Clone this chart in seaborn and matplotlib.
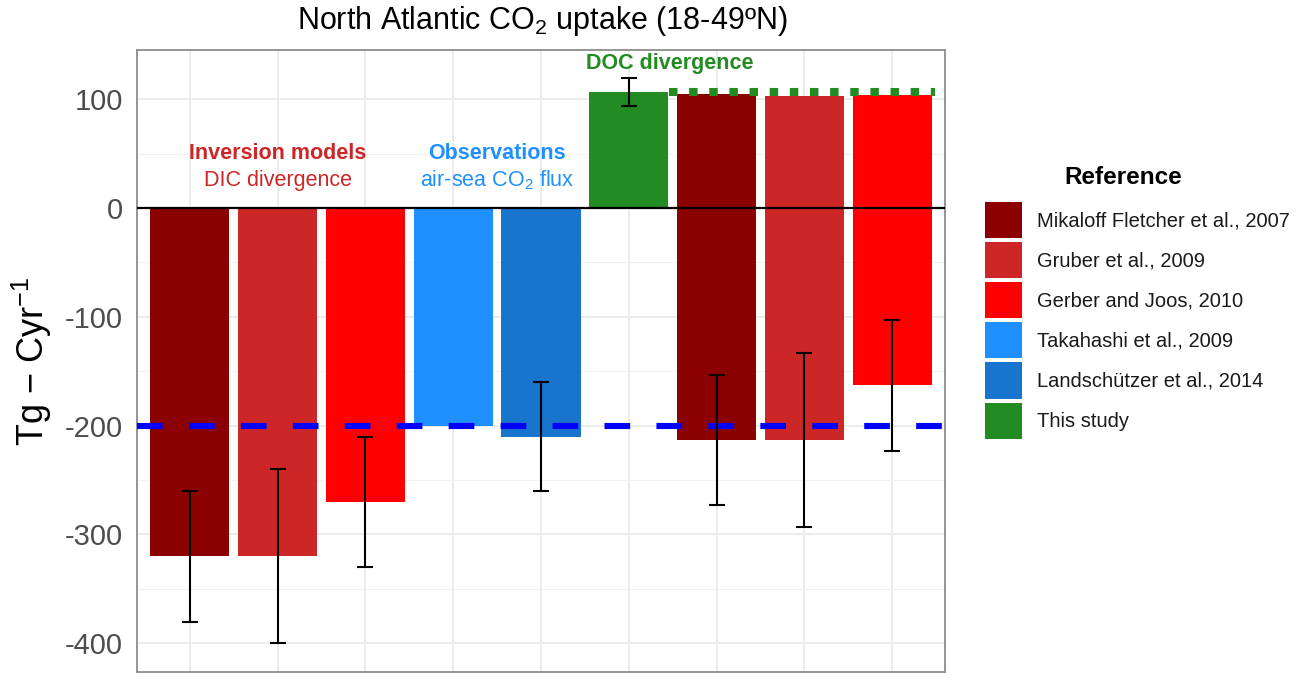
import numpy as np
import pandas as pd
import matplotlib
matplotlib.use("Agg")
import matplotlib.pyplot as plt
from matplotlib.patches import Patch
from matplotlib import font_manager
import seaborn as sns

# ---------------- data ----------------
categories = ['MF07 inv', 'G09 inv', 'GJ10 inv', 'T09 obs', 'L14 obs',
              'This study', 'MF07 DOC', 'G09 DOC', 'GJ10 DOC']
reference = ['Mikaloff Fletcher et al., 2007', 'Gruber et al., 2009',
             'Gerber and Joos, 2010', 'Takahashi et al., 2009',
             'Landschützer et al., 2014', 'This study',
             'Mikaloff Fletcher et al., 2007', 'Gruber et al., 2009',
             'Gerber and Joos, 2010']
lower_values = [-320, -320, -270, -200, -210, 0, -213, -213, -163]
upper_values = [0, 0, 0, 0, 0, 107, 105, 103, 104]
err_center = [-320, -320, -270, np.nan, -210, 107, -213, -213, -163]
err_half = [60, 80, 60, np.nan, 50, 13, 60, 80, 60]
legend_refs = ['Mikaloff Fletcher et al., 2007', 'Gruber et al., 2009',
               'Gerber and Joos, 2010', 'Takahashi et al., 2009',
               'Landschützer et al., 2014', 'This study']
legend_colors = ['#8B0000', '#CD2626', '#FF0000', '#1E90FF', '#1874CD', '#228B22']
ytick_values = [-400, -300, -200, -100, 0, 100]
ytick_labels = ['-400', '-300', '-200', '-100', '0', '100']
yminor_values = [-350, -250, -150, -50, 50]
reference_line = -200
doc_line = 107
title = 'North Atlantic CO$_2$ uptake (18-49ºN)'
ylabel = 'Tg − Cyr$^{-1}$'
legend_title = 'Reference'

palette = dict(zip(legend_refs, legend_colors))
df = pd.DataFrame({'category': categories, 'reference': reference,
                   'lower': lower_values, 'upper': upper_values})

# ---------------- style ----------------
sns.set_theme(style='white')
plt.rcParams['font.family'] = ['Liberation Sans', 'DejaVu Sans']
plt.rcParams['mathtext.default'] = 'regular'
plt.rcParams['axes.unicode_minus'] = False

names = {f.name for f in font_manager.fontManager.ttflist}
if 'Liberation Sans Narrow' in names:
    annot_family = ['Liberation Sans Narrow', 'Liberation Sans']
    annot_size = 17.5
else:
    annot_family = ['Liberation Sans', 'DejaVu Sans']
    annot_size = 15.5

fig = plt.figure(figsize=(12.98, 6.80), dpi=100)
ax = fig.add_axes([137 / 1298, 1 - 672 / 680, 808 / 1298, 622 / 680])

for col in ['lower', 'upper']:
    sns.barplot(data=df, x='category', y=col, hue='reference', palette=palette,
                order=categories, dodge=False, width=0.9, saturation=1,
                errorbar=None, legend=False, ax=ax, zorder=2, linewidth=0)

ax.axhline(0, color='black', lw=1.6, zorder=3)
ax.axhline(reference_line, color='#0000FF', lw=4.4, dashes=(4.2, 4.3),
           dash_capstyle='butt', zorder=3)
ax.plot([5.455, 8.49], [doc_line, doc_line], color='#228B22', lw=5.8,
        dashes=(1.05, 1.45), dash_capstyle='butt', zorder=3)
ax.errorbar(x=np.arange(len(categories)), y=err_center, yerr=err_half,
            fmt='none', ecolor='black', elinewidth=1.5, capsize=6,
            capthick=1.5, zorder=5)

ax.set_xlim(-0.6, 8.6)
ax.set_ylim(-426.4, 145.3)
ax.set_xticks(range(len(categories)))
ax.set_xticklabels([])
ax.set_yticks(ytick_values)
ax.set_yticklabels(ytick_labels)
ax.set_yticks(yminor_values, minor=True)
ax.set_xlabel('')
ax.set_ylabel('')
ax.set_axisbelow(True)
ax.grid(True, which='major', axis='both', color='#EBEBEB', lw=1.3)
ax.grid(True, which='minor', axis='y', color='#F2F2F2', lw=0.8)
ax.tick_params(axis='both', which='both', length=0)
ax.tick_params(axis='y', pad=10, labelsize=21, labelcolor='#4D4D4D')
for s in ax.spines.values():
    s.set_color('#8C8C8C')
    s.set_linewidth(1.3)

# annotations
ax.text(1, 50.5, 'Inversion models', color='#CD2626', fontsize=annot_size,
        fontweight='bold', family=annot_family, ha='center', va='center')
ax.text(1, 25.5, 'DIC divergence', color='#CD2626', fontsize=annot_size,
        family=annot_family, ha='center', va='center')
ax.text(3.5, 50.5, 'Observations', color='#1E90FF', fontsize=annot_size,
        fontweight='bold', family=annot_family, ha='center', va='center')
ax.text(3.5, 25.5, 'air-sea CO$_2$ flux', color='#1E90FF', fontsize=annot_size,
        family=annot_family, ha='center', va='center')
ax.text(5.47, 133, 'DOC divergence', color='#228B22', fontsize=annot_size,
        fontweight='bold', family=annot_family, ha='center', va='center')

fig.text(542 / 1298, 1 - 29 / 680, title, fontsize=22, ha='center',
         va='baseline', color='black')
fig.text(32 / 1298, 1 - 361 / 680, ylabel, fontsize=26, rotation=90,
         ha='center', va='center', color='black')

# legend
fig.text(1123 / 1298, 1 - 184 / 680, legend_title, fontsize=17.5,
         fontweight='bold', ha='center', va='baseline', color='black')
handles = [Patch(facecolor=c, edgecolor='none') for c in legend_colors]
leg = fig.legend(handles, legend_refs, loc='upper left',
                 bbox_to_anchor=(985 / 1298, 1 - 202 / 680),
                 bbox_transform=fig.transFigure, frameon=False,
                 fontsize=14.5, handlelength=1.84, handleheight=2.38,
                 labelspacing=0.2, handletextpad=0.745, borderpad=0,
                 borderaxespad=0)
for t in leg.get_texts():
    t.set_color('#1A1A1A')

fig.savefig('out.png', dpi=100)
